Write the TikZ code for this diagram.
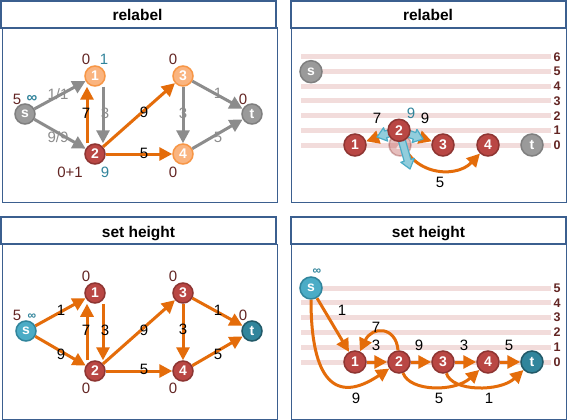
\documentclass[tikz,border=0pt]{standalone}
\usepackage{fontspec}
\setmainfont{Liberation Sans}
\usetikzlibrary{arrows.meta,calc}
\definecolor{tblue}{HTML}{3B5F8F}
\definecolor{eor}{HTML}{E46C0A}
\definecolor{egray}{HTML}{8C8C8C}
\definecolor{nred}{HTML}{B94744}
\definecolor{nredb}{HTML}{8E3532}
\definecolor{npeach}{HTML}{FAB47F}
\definecolor{npeachb}{HTML}{F79646}
\definecolor{ngray}{HTML}{9A9A9A}
\definecolor{ngrayb}{HTML}{7F7F7F}
\definecolor{nteal}{HTML}{4BACC6}
\definecolor{ntealb}{HTML}{31859C}
\definecolor{ndteal}{HTML}{31859C}
\definecolor{ndtealb}{HTML}{215968}
\definecolor{lvl}{HTML}{F2DCDB}
\definecolor{dred}{HTML}{632523}
\definecolor{tealtxt}{HTML}{31849B}
\definecolor{bfill}{HTML}{92CDDC}
\definecolor{bline}{HTML}{4BACC6}
\tikzset{
 panel/.style={draw=tblue, line width=1pt},
 titlebox/.style={draw=tblue, line width=2pt, fill=white},
 titletext/.style={font=\fontsize{15.5}{18}\selectfont\bfseries, anchor=base, inner sep=0pt},
 vtx/.style={circle, minimum size=20pt, inner sep=0pt, line width=1.5pt, text=white, font=\fontsize{14}{16}\selectfont\bfseries},
 bigvtx/.style={vtx, minimum size=22pt},
 redv/.style={fill=nred, draw=nredb},
 peachv/.style={fill=npeach, draw=npeachb},
 grayv/.style={fill=ngray, draw=ngrayb},
 tealv/.style={fill=nteal, draw=ntealb},
 dtealv/.style={fill=ndteal, draw=ndtealb},
 ghostv/.style={fill=nred, draw=nredb, fill opacity=0.35, draw opacity=0.35, text opacity=0.6},
 oedge/.style={draw=eor, line width=3pt, -{Triangle[length=13pt,width=13pt]}},
 gedge/.style={draw=egray, line width=3pt, -{Triangle[length=13pt,width=13pt]}},
 elab/.style={font=\fontsize{15}{17}\selectfont, inner sep=0pt},
 glab/.style={elab, text=egray},
 hlab/.style={elab, text=dred},
 tlab/.style={elab, text=tealtxt},
 inflab/.style={font=\fontsize{15}{17}\selectfont\bfseries, text=tealtxt, inner sep=0pt},
 sinflab/.style={font=\fontsize{12}{14}\selectfont\bfseries, text=tealtxt, inner sep=0pt},
 lvline/.style={draw=lvl, line width=5pt},
 lvtext/.style={font=\fontsize{12.5}{14}\selectfont\bfseries, text=dred, inner sep=0pt},
 blockar/.style={fill=bfill, draw=bline, line width=1.2pt, line join=round},
}
\newcommand\myblockarrow[2]{%
  \coordinate (bkA) at #1; \coordinate (bkB) at #2;
  \coordinate (bkC) at ($(bkB)!9pt!(bkA)$);
  \draw[blockar] ($(bkA)!3.5pt!90:(bkB)$) -- ($(bkC)!3.5pt!90:(bkB)$) -- ($(bkC)!7pt!90:(bkB)$) -- (bkB) -- ($(bkC)!7pt!-90:(bkB)$) -- ($(bkC)!3.5pt!-90:(bkB)$) -- ($(bkA)!3.5pt!-90:(bkB)$) -- cycle;}
\begin{document}
\begin{tikzpicture}[x=1pt,y=-1pt]
\fill[white] (0,0) rectangle (568,420);
\useasboundingbox (0,0) rectangle (568,420);
% ---------- panels ----------
\draw[panel] (2,28) rectangle (277,202);
\draw[titlebox] (1,1.5) rectangle (276,28);
\node[titletext] (title-a) at (137.5,21) {relabel};
\draw[panel] (291,28) rectangle (566.5,202);
\draw[titlebox] (291,1.5) rectangle (566,28);
\node[titletext] (title-b) at (428,21) {relabel};
\draw[panel] (2,244) rectangle (277,419);
\draw[titlebox] (1,217) rectangle (276,244);
\node[titletext] (title-c) at (138.5,237) {set height};
\draw[panel] (291,244) rectangle (566.5,419);
\draw[titlebox] (291,217) rectangle (566,244);
\node[titletext] (title-d) at (428.5,237) {set height};
% ---------- panel A: relabel (graph) ----------
\node[vtx,grayv] (a-s) at (25,114) {s};
\node[vtx,peachv] (a-1) at (95,76) {1};
\node[vtx,redv] (a-2) at (95,154) {2};
\node[vtx,peachv] (a-3) at (183,76) {3};
\node[vtx,peachv] (a-4) at (183,154) {4};
\node[vtx,grayv] (a-t) at (252,114) {t};
\draw[gedge] (a-s) -- (a-1);
\draw[gedge] (a-s) -- (a-2);
\draw[gedge] ([xshift=8pt]a-1.south) -- ([xshift=8pt]a-2.north);
\draw[oedge] ([xshift=-8pt]a-2.north) -- ([xshift=-8pt]a-1.south);
\draw[oedge] (a-2) -- (a-3);
\draw[oedge] (a-2) -- (a-4);
\draw[gedge] (a-3) -- (a-4);
\draw[gedge] (a-3) -- (a-t);
\draw[gedge] (a-4) -- (a-t);
\node[hlab] (a-h1) at (86,59) {0};
\node[tlab] (a-e1) at (104,59) {1};
\node[hlab] (a-hs) at (17,99) {5};
\node[inflab] (a-es) at (32,99) {∞};
\node[hlab] (a-h2) at (70,172) {0+1};
\node[tlab] (a-e2) at (105,172) {9};
\node[hlab] (a-h3) at (173,59) {0};
\node[hlab] (a-ht) at (243,99) {0};
\node[hlab] (a-h4) at (173,172) {0};
\node[glab] (a-ls1) at (58,94) {1/1};
\node[glab] (a-ls2) at (58,137) {9/9};
\node[elab] (a-l21) at (86,113) {7};
\node[glab] (a-l12) at (105,113) {3};
\node[elab] (a-l23) at (144,112) {9};
\node[elab] (a-l24) at (144,153) {5};
\node[glab] (a-l34) at (183,113) {3};
\node[glab] (a-l3t) at (218,93) {1};
\node[glab] (a-l4t) at (218,137) {5};
% ---------- panel B: relabel (heights) ----------
\foreach \i in {0,...,6} {
  \draw[lvline] (301,145-\i*14.667) -- (551,145-\i*14.667);
  \node[lvtext] (b-lv\i) at (557,145-\i*14.667) {\i};
}
\node[bigvtx,ghostv] (b-g) at (400,145) {2};
\node[bigvtx,grayv] (b-s) at (311,71.7) {s};
\node[bigvtx,redv] (b-1) at (355,145) {1};
\node[bigvtx,redv] (b-3) at (443,145) {3};
\node[bigvtx,redv] (b-4) at (488,145) {4};
\node[bigvtx,grayv] (b-t) at (532,145) {t};
\coordinate (b-2c) at (399,130.3);
\draw[oedge] (b-2c) -- (b-1);
\draw[oedge] (b-2c) -- (b-3);
\draw[oedge] (b-2c) .. controls (405,175) and (455,180) .. (b-4);
\myblockarrow{(399,130.3)}{(377,137)}
\myblockarrow{(399,130.3)}{(423,139)}
\myblockarrow{(399,130.3)}{(410,169)}
\node[bigvtx,redv] (b-2) at (b-2c) {2};
\node[elab] (b-l21) at (377,118) {7};
\node[tlab] (b-e2) at (411,113) {9};
\node[elab] (b-l23) at (425,118) {9};
\node[elab] (b-l24) at (440,182) {5};
% ---------- panel C: set height (graph) ----------
\node[vtx,tealv] (c-s) at (26,331) {s};
\node[vtx,redv] (c-1) at (95,293) {1};
\node[vtx,redv] (c-2) at (95,371) {2};
\node[vtx,redv] (c-3) at (183,293) {3};
\node[vtx,redv] (c-4) at (183,371) {4};
\node[vtx,dtealv] (c-t) at (252,331) {t};
\draw[oedge] (c-s) -- (c-1);
\draw[oedge] (c-s) -- (c-2);
\draw[oedge] ([xshift=8pt]c-1.south) -- ([xshift=8pt]c-2.north);
\draw[oedge] ([xshift=-8pt]c-2.north) -- ([xshift=-8pt]c-1.south);
\draw[oedge] (c-2) -- (c-3);
\draw[oedge] (c-2) -- (c-4);
\draw[oedge] (c-3) -- (c-4);
\draw[oedge] (c-3) -- (c-t);
\draw[oedge] (c-4) -- (c-t);
\node[hlab] (c-hs) at (17,315) {5};
\node[sinflab] (c-es) at (32,317) {∞};
\node[hlab] (c-h1) at (86,276) {0};
\node[hlab] (c-h3) at (173,276) {0};
\node[hlab] (c-ht) at (243,315) {0};
\node[hlab] (c-h2) at (86,388) {0};
\node[hlab] (c-h4) at (173,388) {0};
\node[elab] (c-ls1) at (61,310) {1};
\node[elab] (c-ls2) at (61,354) {9};
\node[elab] (c-l21) at (86,330) {7};
\node[elab] (c-l12) at (105,330) {3};
\node[elab] (c-l23) at (144,330) {9};
\node[elab] (c-l24) at (144,369) {5};
\node[elab] (c-l34) at (183,329) {3};
\node[elab] (c-l3t) at (218,310) {1};
\node[elab] (c-l4t) at (218,354) {5};
% ---------- panel D: set height (heights) ----------
\foreach \i in {0,...,5} {
  \draw[lvline] (301,362-\i*14.8) -- (551,362-\i*14.8);
  \node[lvtext] (d-lv\i) at (557,362-\i*14.8) {\i};
}
\node[bigvtx,tealv] (d-s) at (311,288) {s};
\node[bigvtx,redv] (d-1) at (355,362) {1};
\node[bigvtx,redv] (d-2) at (399,362) {2};
\node[bigvtx,redv] (d-3) at (443,362) {3};
\node[bigvtx,redv] (d-4) at (488,362) {4};
\node[bigvtx,dtealv] (d-t) at (532,362) {t};
\draw[oedge] (d-s) -- (d-1);
\draw[oedge] (d-s) .. controls (311,380) and (335,405) .. (d-2);
\draw[oedge] (d-1) -- (d-2);
\draw[oedge] (d-2) -- (d-3);
\draw[oedge] (d-3) -- (d-4);
\draw[oedge] (d-4) -- (d-t);
\draw[oedge] (d-2) .. controls (396,326) and (372,326) .. (d-1);
\draw[oedge] (d-2) .. controls (410,392) and (455,392) .. (d-4);
\draw[oedge] (d-3) .. controls (452,392) and (500,392) .. (d-t);
\node[sinflab] (d-es) at (317,272) {∞};
\node[elab] (d-ls1) at (342,310) {1};
\node[elab] (d-l21) at (376,327) {7};
\node[elab] (d-l12) at (376,345) {3};
\node[elab] (d-l23) at (419,345) {9};
\node[elab] (d-l34) at (464,345) {3};
\node[elab] (d-l4t) at (509,345) {5};
\node[elab] (d-ls2) at (356,398) {9};
\node[elab] (d-l24) at (439,398) {5};
\node[elab] (d-l3t) at (489,398) {1};
\end{tikzpicture}
\end{document}
